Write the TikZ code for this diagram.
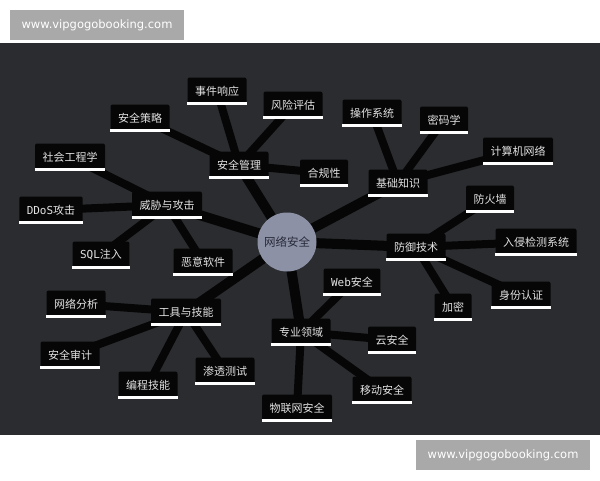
\documentclass[tikz,border=0pt]{standalone}
\usepackage{fontspec}
\setmainfont{Noto Sans CJK SC}
\newfontfamily\latinmono{DejaVu Sans Mono}
\newfontfamily\markfont{DejaVu Sans}
\usetikzlibrary{backgrounds}

\definecolor{canvas}{HTML}{2B2C2F}
\definecolor{boxblack}{HTML}{060606}
\definecolor{boxtext}{HTML}{E2E2E2}
\definecolor{rootgray}{HTML}{8D91A6}
\definecolor{rootink}{HTML}{262A38}
\definecolor{markgray}{HTML}{A9A9A9}

\begin{document}
\begin{tikzpicture}[x=1pt,y=-1pt,
	root node/.style={circle, fill=rootgray, text=rootink, minimum size=59pt, inner sep=0pt,
		font=\fontsize{11.5}{13}\selectfont},
	box node/.style={rounded corners=2pt, fill=boxblack, text=boxtext, inner xsep=7.5pt,
		minimum height=27pt, font=\fontsize{11}{13}\selectfont,
		append after command={([yshift=1.2pt]\tikzlastnode.south west)
			edge[draw=white, line width=2.4pt] ([yshift=1.2pt]\tikzlastnode.south east)}},
	mark node/.style={fill=markgray, text=white, minimum width=174pt, minimum height=30pt,
		font=\markfont\fontsize{11.5}{13}\selectfont},
	trunk/.style={draw=boxblack, line width=10pt},
	twig/.style={draw=boxblack, line width=8pt}]

	\useasboundingbox (0,0) rectangle (600,480);
	\begin{scope}[on background layer]
		\fill[white] (0,0) rectangle (600,480);
		\fill[canvas] (0,43) rectangle (600,435);
	\end{scope}

	% centre
	\node[root node] (root) at (287,242) {网络安全};

	% security management
	\node[box node] (mgmt) at (239,165) {安全管理};
	\node[box node] (policy) at (140,118) {安全策略};
	\node[box node] (incident) at (217,91) {事件响应};
	\node[box node] (risk) at (293,105) {风险评估};
	\node[box node] (comply) at (324,173) {合规性};

	% basics
	\node[box node] (basics) at (398,183) {基础知识};
	\node[box node] (os) at (372,113) {操作系统};
	\node[box node] (crypto) at (444,120) {密码学};
	\node[box node] (network) at (518,151) {计算机网络};

	% defence
	\node[box node] (defense) at (416,247) {防御技术};
	\node[box node] (firewall) at (490,199) {防火墙};
	\node[box node] (ids) at (536,242) {入侵检测系统};
	\node[box node] (encrypt) at (453,307) {加密};
	\node[box node] (auth) at (521,295) {身份认证};

	% threats
	\node[box node] (threat) at (167,205) {威胁与攻击};
	\node[box node] (social) at (70,157) {社会工程学};
	\node[box node] (ddos) at (51,210) {{\latinmono DDoS}攻击};
	\node[box node] (sqli) at (101,255) {{\latinmono SQL}注入};
	\node[box node] (malware) at (203,262) {恶意软件};

	% tools
	\node[box node] (tools) at (186,312) {工具与技能};
	\node[box node] (analysis) at (76,304) {网络分析};
	\node[box node] (audit) at (70,355) {安全审计};
	\node[box node] (coding) at (148,385) {编程技能};
	\node[box node] (pentest) at (225,371) {渗透测试};

	% domains
	\node[box node] (domain) at (301,332) {专业领域};
	\node[box node] (web) at (352,282) {{\latinmono Web}安全};
	\node[box node] (cloud) at (392,340) {云安全};
	\node[box node] (mobile) at (382,390) {移动安全};
	\node[box node] (iot) at (297,408) {物联网安全};

	\begin{scope}[on background layer]
		\foreach \b in {mgmt,basics,defense,threat,tools,domain}
			\draw[trunk] (root.center) -- (\b.center);
		\foreach \a/\b in {mgmt/policy,mgmt/incident,mgmt/risk,mgmt/comply,
				basics/os,basics/crypto,basics/network,
				defense/firewall,defense/ids,defense/encrypt,defense/auth,
				threat/social,threat/ddos,threat/sqli,threat/malware,
				tools/analysis,tools/audit,tools/coding,tools/pentest,
				domain/web,domain/cloud,domain/mobile,domain/iot}
			\draw[twig] (\a.center) -- (\b.center);
	\end{scope}

	% watermarks
	\node[mark node] (marktop) at (97,25) {www.vipgogobooking.com};
	\node[mark node] (markbottom) at (503,455) {www.vipgogobooking.com};
\end{tikzpicture}
\end{document}
